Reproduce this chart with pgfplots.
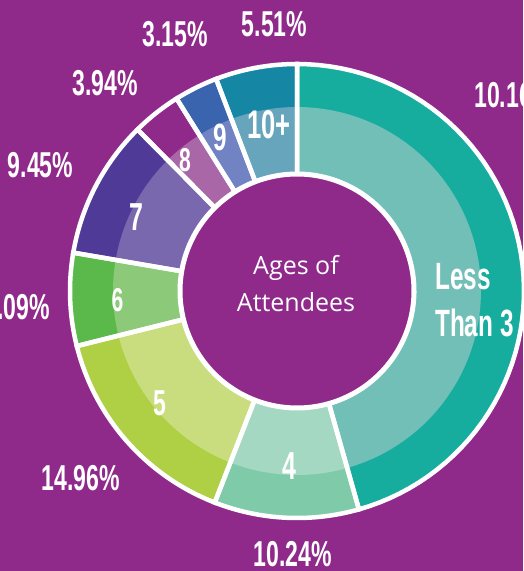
\documentclass[border=0pt]{standalone}
\usepackage{pgfplots}
\pgfplotsset{compat=1.18}
\usepackage{pgfplotstable}
\usepackage{fontspec}
\setmainfont{Open Sans}
\newfontfamily\labf{Liberation Sans}[FakeStretch=0.64]

\definecolor{bg}{HTML}{8F2A8A}
\definecolor{d0}{HTML}{17AD9E}\definecolor{l0}{HTML}{72BFB8}
\definecolor{d1}{HTML}{7FCBA9}\definecolor{l1}{HTML}{A5D8C2}
\definecolor{d2}{HTML}{AFD045}\definecolor{l2}{HTML}{C9DD7F}
\definecolor{d3}{HTML}{5BB84A}\definecolor{l3}{HTML}{8CC979}
\definecolor{d4}{HTML}{4F3A97}\definecolor{l4}{HTML}{7968AE}
\definecolor{d5}{HTML}{8F2A8A}\definecolor{l5}{HTML}{A967A8}
\definecolor{d6}{HTML}{3A64AE}\definecolor{l6}{HTML}{7183C2}
\definecolor{d7}{HTML}{1587A4}\definecolor{l7}{HTML}{67A5BC}

% share of attendees per age group (clockwise from the top)
\pgfplotstableread{
slice pct
LessThan3 45.6
4 10.3
5 15.2
6 6.6
7 9.9
8 3.5
9 3.1
10+ 5.8
}\agetable

\def\angcur{90}
\pgfplotsforeachungrouped \i in {0,...,7}{%
  \pgfplotstablegetelem{\i}{pct}\of\agetable
  \expandafter\let\csname as\i\endcsname\angcur
  \pgfmathsetmacro\angcur{\angcur-3.6*\pgfplotsretval}%
  \expandafter\let\csname ae\i\endcsname\angcur
}

% #1 index, #2 style, #3 radius
\newcommand\slice[3]{%
  \edef\tmp{\noexpand\addplot[#2, domain=\csname ae#1\endcsname:\csname as#1\endcsname, samples=60] ({297+#3*cos(x)},{280+#3*sin(x)}) -- (297,280) -- cycle;}%
  \tmp}

\tikzset{
  pl/.style={font=\labf\bfseries\fontsize{36}{40}\selectfont, text=white, inner sep=0pt},
  sl/.style={font=\labf\bfseries\fontsize{#1}{#1}\selectfont, text=white, inner sep=0pt},
}

\begin{document}
\begin{tikzpicture}
\fill[bg] (0,0) rectangle (523pt,571pt);
\begin{axis}[at={(0,0)}, anchor=south west, scale only axis,
  width=523pt, height=571pt, xmin=0, xmax=523, ymin=0, ymax=571,
  axis lines=none, clip=false]
% outer (dark) ring
\slice{0}{fill=d0, draw=none}{227}
\slice{1}{fill=d1, draw=none}{227}
\slice{2}{fill=d2, draw=none}{227}
\slice{3}{fill=d3, draw=none}{227}
\slice{4}{fill=d4, draw=none}{227}
\slice{5}{fill=d5, draw=none}{227}
\slice{6}{fill=d6, draw=none}{227}
\slice{7}{fill=d7, draw=none}{227}
% inner (light) ring
\slice{0}{fill=l0, draw=none}{184}
\slice{1}{fill=l1, draw=none}{184}
\slice{2}{fill=l2, draw=none}{184}
\slice{3}{fill=l3, draw=none}{184}
\slice{4}{fill=l4, draw=none}{184}
\slice{5}{fill=l5, draw=none}{184}
\slice{6}{fill=l6, draw=none}{184}
\slice{7}{fill=l7, draw=none}{184}
% white separators
\slice{0}{draw=white, line width=4.5pt}{227}
\slice{1}{draw=white, line width=4.5pt}{227}
\slice{2}{draw=white, line width=4.5pt}{227}
\slice{3}{draw=white, line width=4.5pt}{227}
\slice{4}{draw=white, line width=4.5pt}{227}
\slice{5}{draw=white, line width=4.5pt}{227}
\slice{6}{draw=white, line width=4.5pt}{227}
\slice{7}{draw=white, line width=4.5pt}{227}
% centre hole
\addplot[fill=bg, draw=white, line width=5pt, domain=0:360, samples=180]
  ({297+117*cos(x)},{280+117*sin(x)}) -- cycle;

% centre title
\node[text=white, font=\fontsize{25}{28}\selectfont, anchor=base, inner sep=0pt] at (296,296) {Ages of};
\node[text=white, font=\fontsize{25}{28}\selectfont, anchor=base, inner sep=0pt] at (296,259) {Attendees};

% slice labels
\node[sl=40, anchor=base] at (269,432) {10+};
\node[sl=38, anchor=base] at (220.5,420.3) {9};
\node[sl=33, anchor=base] at (185,399.3) {8};
\node[sl=39, anchor=base] at (136,340) {7};
\node[sl=33, anchor=base] at (117.5,259.3) {6};
\node[sl=36, anchor=base] at (160,155.3) {5};
\node[sl=39, anchor=base] at (289.5,91) {4};
\node[sl=38, anchor=base west] at (435,281) {Less};
\node[sl=38, anchor=base west] at (435,234) {Than 3};

% percentages
\node[pl, anchor=base] at (274.5,534) {5.51\%};
\node[pl, anchor=base] at (175,524) {3.15\%};
\node[pl, anchor=base] at (105,475) {3.94\%};
\node[pl, anchor=base] at (40.5,393) {9.45\%};
\node[pl, anchor=base east] at (50,251) {6.09\%};
\node[pl, anchor=base] at (81,80) {14.96\%};
\node[pl, anchor=base] at (293,4.3) {10.24\%};
\node[pl, anchor=base west] at (474,463) {10.16\%};
\end{axis}
\pgfresetboundingbox
\path (0,0) rectangle (523pt,571pt);
\end{tikzpicture}
\end{document}
